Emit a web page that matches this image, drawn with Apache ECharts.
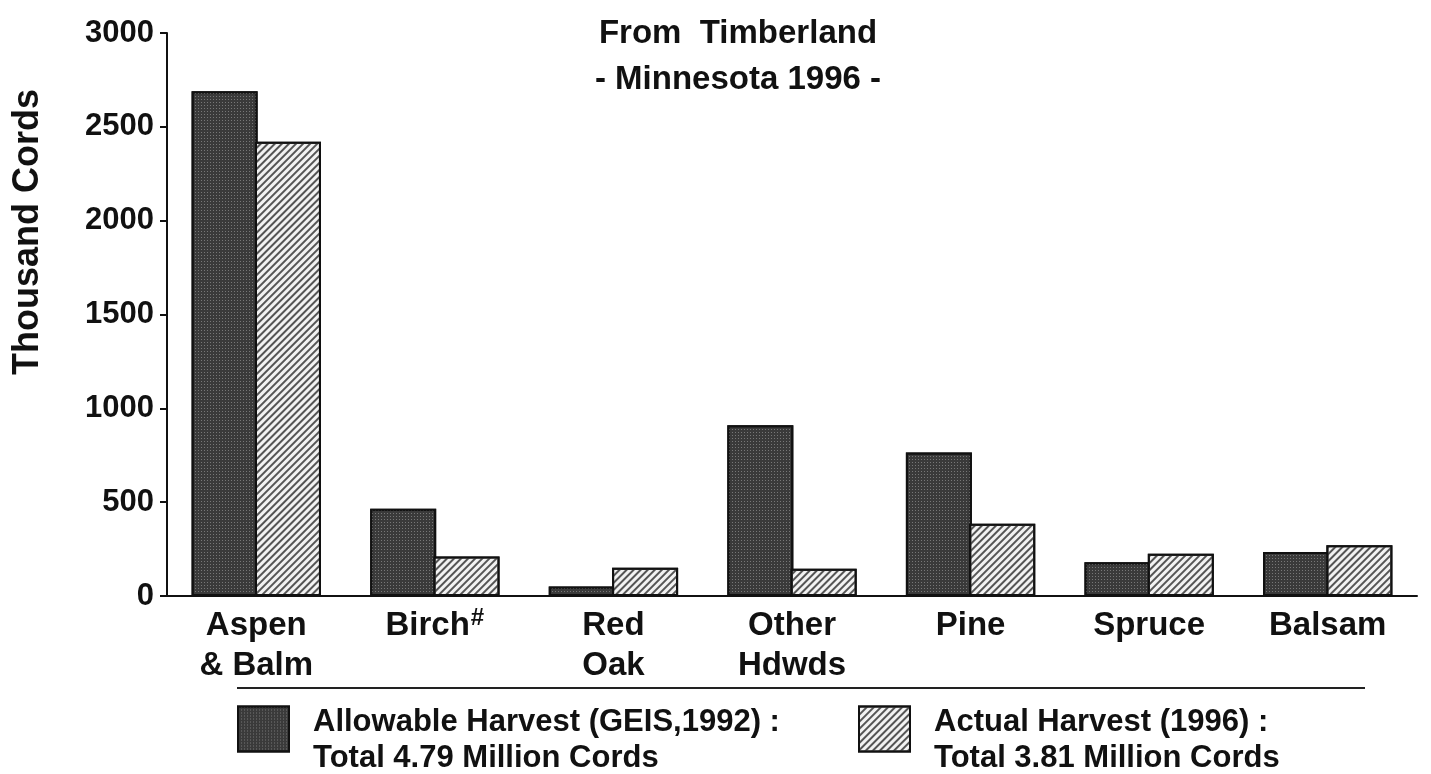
<!DOCTYPE html>
<html>
<head>
<meta charset="utf-8">
<script src="https://cdn.jsdelivr.net/npm/echarts@6/dist/echarts.min.js"></script>
<style>html,body{margin:0;padding:0;background:#fff;}#c{width:1431px;height:774px;}</style>
</head>
<body>
<div id="c"></div>
<script>
const categories = ['Aspen\n& Balm', 'Birch', 'Red\nOak', 'Other\nHdwds', 'Pine', 'Spruce', 'Balsam'];
const allowable = [2690, 465, 50, 910, 765, 180, 235];
const actual = [2420, 210, 150, 145, 385, 225, 270];
const yTicks = [0, 500, 1000, 1500, 2000, 2500, 3000];
const seriesNames = ['Allowable Harvest (GEIS,1992) :', 'Actual Harvest (1996) :'];
const seriesTotals = ['Total 4.79 Million Cords', 'Total 3.81 Million Cords'];

const FF = "'Liberation Sans', Arial, Helvetica, sans-serif";
const chart = echarts.init(document.getElementById('c'));
const legendText = {
  fontFamily: FF, fontWeight: 'bold', fontSize: 31, lineHeight: 36, color: '#111', padding: [0, 0, 0, 19],
  rich: {
    sp: {fontSize: 8, lineHeight: 22},
    t: {fontFamily: FF, fontWeight: 'bold', fontSize: 31, lineHeight: 36, color: '#111'}
  }
};
const legendFmt = name => {
  const i = seriesNames.indexOf(name);
  return '{sp| }\n{t|' + name + '}\n{t|' + seriesTotals[i] + '}';
};
chart.setOption({
  backgroundColor: '#fff',
  animation: false,
  title: {
    text: 'From  Timberland\n- Minnesota 1996 -',
    left: 733, top: 6, textAlign: 'center',
    textStyle: {fontFamily: FF, fontWeight: 'bold', fontSize: 33, lineHeight: 46, color: '#111'}
  },
  grid: {left: 167, top: 33, width: 1250, bottom: 178},
  legend: [
    {data: [{name: seriesNames[0], icon: 'rect'}], left: 237, top: 682, padding: 0, itemWidth: 51, itemHeight: 45, textStyle: legendText, formatter: legendFmt, selectedMode: false},
    {data: [{name: seriesNames[1], icon: 'rect'}], left: 858, top: 682, padding: 0, itemWidth: 51, itemHeight: 45, textStyle: legendText, formatter: legendFmt, selectedMode: false}
  ],
  xAxis: {
    type: 'category', data: categories,
    axisLine: {lineStyle: {color: '#111', width: 2}},
    axisTick: {show: false},
    axisLabel: {
      interval: 0, margin: 10, color: '#111',
      fontFamily: FF, fontWeight: 'bold', fontSize: 33, lineHeight: 40,
      formatter: v => v === 'Birch' ? '{b|Birch}{s|#}' : v,
      rich: {
        b: {fontFamily: FF, fontWeight: 'bold', fontSize: 33, lineHeight: 40, color: '#111'},
        s: {fontFamily: FF, fontWeight: 'bold', fontSize: 24, lineHeight: 40, color: '#111', verticalAlign: 'top', padding: [0, 0, 0, 1]}
      }
    }
  },
  yAxis: {
    type: 'value', min: yTicks[0], max: yTicks[yTicks.length - 1], interval: 500,
    axisLine: {show: true, lineStyle: {color: '#111', width: 2}},
    axisTick: {show: true, length: 7, lineStyle: {color: '#111', width: 2}},
    splitLine: {show: false},
    axisLabel: {margin: 13, color: '#111', fontFamily: FF, fontWeight: 'bold', fontSize: 31, formatter: v => String(v)}
  },
  graphic: [
    {type: 'text', x: 28, y: 232, rotation: Math.PI / 2,
     style: {text: 'Thousand Cords', fontFamily: FF, fontWeight: 'bold', fontSize: 36, fill: '#111', align: 'center', verticalAlign: 'middle'}},
    {type: 'line', shape: {x1: 237, y1: 688, x2: 1365, y2: 688}, style: {stroke: '#222', lineWidth: 2}}
  ],
  series: [
    {
      name: seriesNames[0], type: 'bar', data: allowable, barWidth: 66, barGap: '-4%',
      itemStyle: {
        color: '#3a3a3a', borderColor: '#111', borderWidth: 2,
        decal: {symbol: 'rect', symbolSize: 1, dashArrayX: [1, 2], dashArrayY: [1, 2], color: 'rgba(170,170,170,0.55)'}
      }
    },
    {
      name: seriesNames[1], type: 'bar', data: actual, barWidth: 66,
      itemStyle: {
        color: '#f2f2f2', borderColor: '#111', borderWidth: 2,
        decal: {symbol: 'rect', symbolSize: 1, dashArrayX: [1, 0], dashArrayY: [1.4, 2.2], rotation: -Math.PI / 4, color: '#555'}
      }
    }
  ]
});
</script>
</body>
</html>
